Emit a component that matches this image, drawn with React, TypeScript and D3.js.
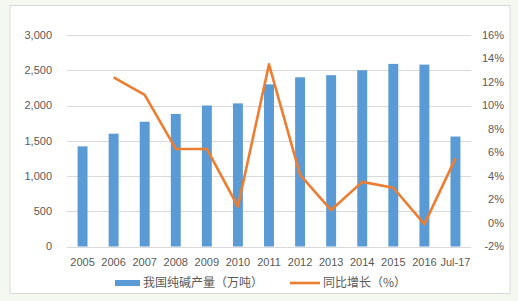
import React from "react";
import * as d3 from "d3";

const categories = ["2005","2006","2007","2008","2009","2010","2011","2012","2013","2014","2015","2016","Jul-17"];
const production = [1420,1600,1770,1880,2000,2030,2300,2400,2430,2500,2590,2580,1560];
const growth: (number | null)[] = [null,12.4,10.9,6.3,6.3,1.4,13.5,4.1,1.1,3.5,3.0,-0.1,5.5];
const leftTicks = [0,500,1000,1500,2000,2500,3000];
const rightTicks = [-2,0,2,4,6,8,10,12,14,16];
const barLabel = "我国纯碱产量（万吨）";
const lineLabel = "同比增长（%）";

export default function App() {
  const W = 518, H = 301;
  const left = 67, right = 471, top = 35, bottom = 246.5;
  const x = d3.scaleBand<string>().domain(categories).range([left, right]).paddingInner(0.68).paddingOuter(0.34);
  const yL = d3.scaleLinear().domain([0, 3000]).range([bottom, top]);
  const yR = d3.scaleLinear().domain([-2, 16]).range([bottom, top]);
  const fmt = d3.format(",");
  const line = d3.line<[string, number | null]>()
    .defined(d => d[1] !== null)
    .x(d => (x(d[0]) as number) + x.bandwidth() / 2)
    .y(d => yR(d[1] as number));
  const pts = categories.map((c, i) => [c, growth[i]] as [string, number | null]);
  const font = "'Liberation Sans', Arial, sans-serif";
  const cjk = "'Noto Sans CJK SC', sans-serif";
  return (
    <svg width={W} height={H} style={{ position: "absolute", left: 0, top: 0 }}>
      <rect x={0} y={0} width={W} height={H} fill="#f4f8f1" />
      <rect x={10} y={5.5} width={500} height={288} fill="#ffffff" stroke="#d9d9d9" strokeWidth={1} />
      {leftTicks.map(t => (
        <line key={t} x1={left} x2={right} y1={Math.round(yL(t)) + 0.5} y2={Math.round(yL(t)) + 0.5} stroke="#d9d9d9" strokeWidth={1} />
      ))}
      {categories.map((c, i) => (
        <rect key={c} x={x(c)} y={yL(production[i])} width={x.bandwidth()} height={bottom - yL(production[i])} fill="#5b9bd5" />
      ))}
      <path d={line(pts) || ""} fill="none" stroke="#ed7d31" strokeWidth={2.6} strokeLinejoin="round" />
      {leftTicks.map(t => (
        <text key={t} x={52} y={yL(t)} dy="0.35em" textAnchor="end" fontSize={11} fill="#595959" fontFamily={font}>{fmt(t)}</text>
      ))}
      {rightTicks.map(t => (
        <text key={t} x={504} y={yR(t)} dy="0.35em" textAnchor="end" fontSize={11} fill="#595959" fontFamily={font}>{t + "%"}</text>
      ))}
      {categories.map(c => (
        <text key={c} x={(x(c) as number) + x.bandwidth() / 2} y={262} dy="0.35em" textAnchor="middle" fontSize={11} fill="#595959" fontFamily={font}>{c}</text>
      ))}
      <rect x={115} y={280} width={25} height={6} fill="#5b9bd5" />
      <text x={143} y={283} dy="0.35em" fontSize={12} fill="#595959" fontFamily={cjk}>{barLabel}</text>
      <line x1={290} x2={320} y1={283} y2={283} stroke="#ed7d31" strokeWidth={2.6} />
      <text x={323} y={283} dy="0.35em" fontSize={12} fill="#595959" fontFamily={cjk}>{lineLabel}</text>
    </svg>
  );
}
